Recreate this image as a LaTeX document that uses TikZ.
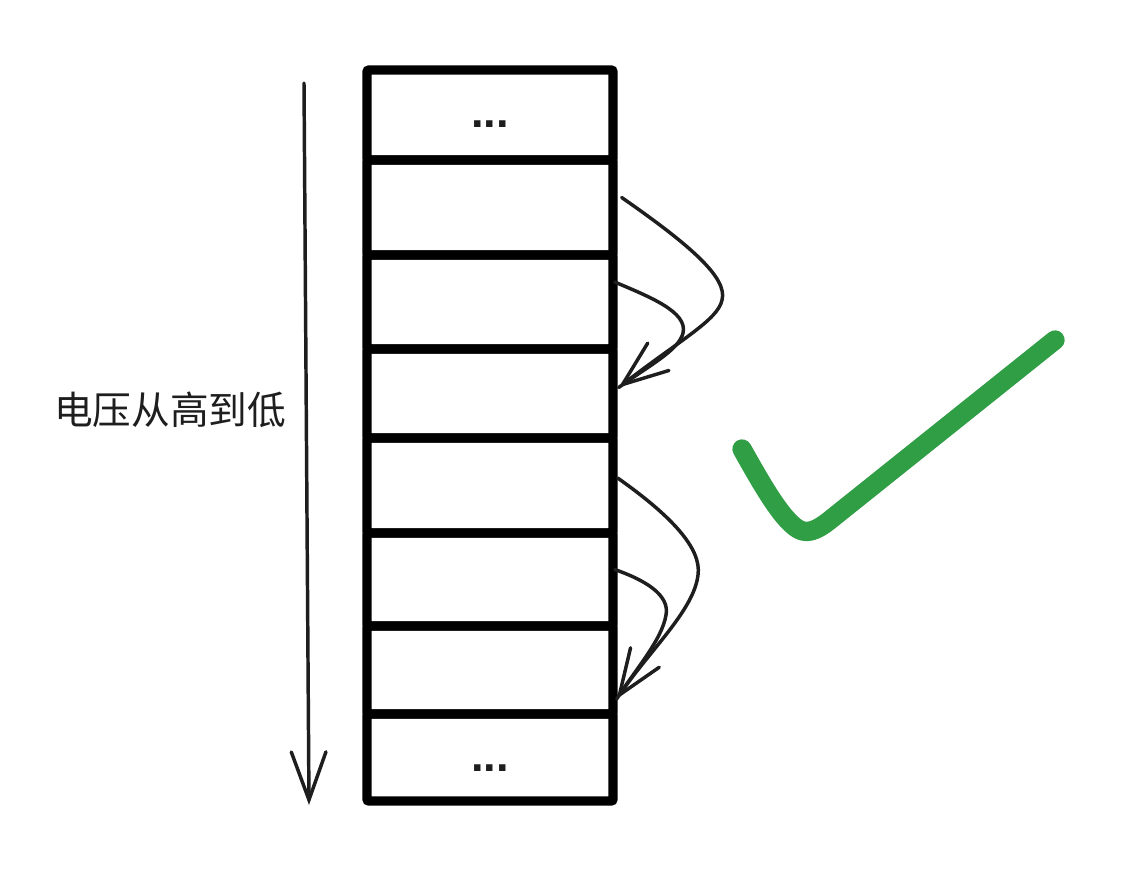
\documentclass[tikz,border=0pt]{standalone}
\usepackage{fontspec}
\setmainfont{Liberation Sans}
\newfontfamily\cjk{Noto Sans CJK SC}
\usetikzlibrary{arrows.meta,calc}
\definecolor{checkgreen}{HTML}{2F9E44}
\definecolor{ink}{HTML}{1E1E1E}
\begin{document}
\begin{tikzpicture}[x=0.75pt,y=-0.75pt,
  cell/.style={draw=black, line width=7pt, rounded corners=1.5pt, minimum width=184.5pt, inner sep=0pt},
  dots/.style={font=\fontsize{34}{34}\bfseries\selectfont, text=ink, inner sep=0pt},
  curve/.style={draw=ink, line width=2.6pt, line cap=round, line join=round},
  head/.style={-{Straight Barb[length=34pt,width=26pt,line cap=round]}},
  check/.style={draw=checkgreen, line width=14.5pt, line cap=round, line join=round}]
\useasboundingbox (0,0) rectangle (1138,868);
\fill[white] (0,0) rectangle (1138,868);
% cells
\node[cell, minimum height=67.5pt]  (b1) at (490,115) {};
\node[cell, minimum height=71.25pt] (b2) at (490,207.5) {};
\node[cell, minimum height=70.5pt]  (b3) at (490,302) {};
\node[cell, minimum height=66.75pt] (b4) at (490,393.5) {};
\node[cell, minimum height=71.25pt] (b5) at (490,485.5) {};
\node[cell, minimum height=69.75pt] (b6) at (490,579.5) {};
\node[cell, minimum height=66pt]    (b7) at (490,670) {};
\node[cell, minimum height=65.25pt] (b8) at (490,757.5) {};
\node[dots] (d1) at ($(b1.center)+(0,9)$) {...};
\node[dots] (d2) at ($(b8.center)+(0,11)$) {...};
% left arrow and label
\coordinate (vtop) at (304,83);
\coordinate (vbot) at (309,805);
\draw[curve, -{Straight Barb[length=36pt,width=26pt,line cap=round]}] (vtop) -- (vbot);
\node[font=\cjk\fontsize{29}{29}\selectfont, text=ink] (lbl) at (170,410) {电压从高到低};
% first pair of curved arrows
\coordinate (s1) at ($(b2.east)+(4,-10)$);
\coordinate (s2) at ($(b3.east)+(-3,-20)$);
\coordinate (t1) at ($(b4.east)+(1,-6)$);
\draw[curve, head] (s1) .. controls (690,245) and (728,278) .. (722,300)
  .. controls (718,320) and (680,340) .. (t1);
\draw[curve] (s2) .. controls (650,297) and (688,312) .. (683,333)
  .. controls (679,350) and (650,365) .. (t1);
% second pair
\coordinate (s3) at ($(b5.east)+(0,-7.5)$);
\coordinate (s4) at ($(b6.east)+(-3,-10)$);
\coordinate (t2) at ($(b7.east)+(-1,29)$);
\draw[curve, head] (s3) .. controls (670,515) and (702,548) .. (698,575)
  .. controls (694,610) and (650,650) .. (t2);
\draw[curve] (s4) .. controls (645,580) and (670,595) .. (666,615)
  .. controls (662,640) and (635,670) .. (t2);
% check mark
\coordinate (c1) at (742,449);
\coordinate (c2) at (1055,340);
\draw[check] (c1) .. controls (765,490) and (780,515) .. (795,527)
  .. controls (805,535) and (815,532) .. (830,520) -- (c2);
\end{tikzpicture}
\end{document}
